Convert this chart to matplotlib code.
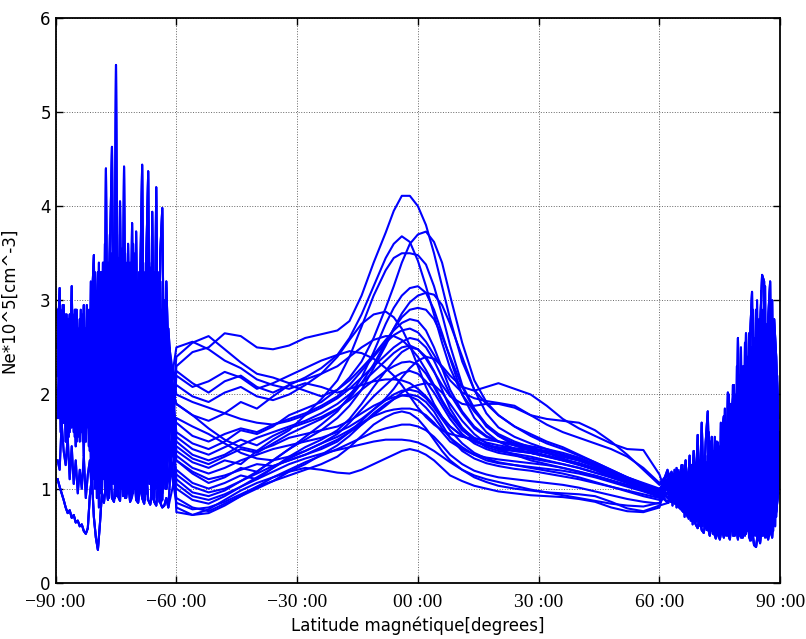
import matplotlib
matplotlib.use("Agg")
import matplotlib.pyplot as plt

# latitude grids (degrees); the "b" grids sit half a sample off the "a" grids
lat_south_a = [-89.5, -89.0, -88.5, -88.0, -87.5, -87.0, -86.5, -86.0, -85.5, -85.0,
               -84.5, -84.0, -83.5, -83.0, -82.5, -82.0, -81.5, -81.0, -80.5, -80.0,
               -79.5, -79.0, -78.5, -78.0, -77.5, -77.0, -76.5, -76.0, -75.5, -75.0,
               -74.5, -74.0, -73.5, -73.0, -72.5, -72.0, -71.5, -71.0, -70.5, -70.0,
               -69.5, -69.0, -68.5, -68.0, -67.5, -67.0, -66.5, -66.0, -65.5, -65.0,
               -64.5, -64.0, -63.5, -63.0, -62.5, -62.0]
lat_south_b = [-89.25, -88.75, -88.25, -87.75, -87.25, -86.75, -86.25, -85.75, -85.25, -84.75,
               -84.25, -83.75, -83.25, -82.75, -82.25, -81.75, -81.25, -80.75, -80.25, -79.75,
               -79.25, -78.75, -78.25, -77.75, -77.25, -76.75, -76.25, -75.75, -75.25, -74.75,
               -74.25, -73.75, -73.25, -72.75, -72.25, -71.75, -71.25, -70.75, -70.25, -69.75,
               -69.25, -68.75, -68.25, -67.75, -67.25, -66.75, -66.25, -65.75, -65.25, -64.75,
               -64.25, -63.75, -63.25, -62.75, -62.25, -61.75]
lat_mid = [-60, -56, -52, -48, -44, -40, -36, -32, -28, -24, -20, -17, -14, -11, -8,
           -6, -4, -2, 0, 2, 4, 6, 8, 11, 14, 17, 20, 24, 28, 32, 36, 40, 44, 48, 52, 56, 60]
lat_north_a = [62.0, 62.5, 63.0, 63.5, 64.0, 64.5, 65.0, 65.5, 66.0, 66.5,
               67.0, 67.5, 68.0, 68.5, 69.0, 69.5, 70.0, 70.5, 71.0, 71.5,
               72.0, 72.5, 73.0, 73.5, 74.0, 74.5, 75.0, 75.5, 76.0, 76.5,
               77.0, 77.5, 78.0, 78.5, 79.0, 79.5, 80.0, 80.5, 81.0, 81.5,
               82.0, 82.5, 83.0, 83.5, 84.0, 84.5, 85.0, 85.5, 86.0, 86.5,
               87.0, 87.5, 88.0, 88.5, 89.0, 89.5]
lat_north_b = [62.25, 62.75, 63.25, 63.75, 64.25, 64.75, 65.25, 65.75, 66.25, 66.75,
               67.25, 67.75, 68.25, 68.75, 69.25, 69.75, 70.25, 70.75, 71.25, 71.75,
               72.25, 72.75, 73.25, 73.75, 74.25, 74.75, 75.25, 75.75, 76.25, 76.75,
               77.25, 77.75, 78.25, 78.75, 79.25, 79.75, 80.25, 80.75, 81.25, 81.75,
               82.25, 82.75, 83.25, 83.75, 84.25, 84.75, 85.25, 85.75, 86.25, 86.75,
               87.25, 87.75, 88.25, 88.75, 89.25, 89.75]

# southern polar segments (Ne * 1e5 cm^-3)
s0 = [1.10, 1.02, 0.95, 0.88,
      0.80, 0.74, 0.77, 0.69, 0.72, 0.64, 0.66, 0.60, 0.62, 0.55, 0.52, 0.58,
      0.92, 1.12, 0.70, 0.48, 0.35,
      0.62, 0.95, 0.85, 1.05, 0.88, 1.30, 0.90, 0.86, 1.15, 0.92, 0.87, 1.40, 0.95, 0.90, 1.10, 0.86,
      0.92, 1.25, 0.88, 0.85, 1.05, 0.90, 0.84, 1.20, 0.88, 0.83, 0.95, 0.86, 0.82, 1.10, 0.85, 0.80,
      0.82, 0.90, 0.80]
s1 = [2.50, 3.13, 1.90, 2.60,
      1.80, 2.70, 2.10, 3.15, 1.75, 2.55, 1.95, 2.80, 1.60, 2.45, 2.05, 2.90,
      1.40, 2.95, 3.48, 1.30, 2.80,
      1.50, 3.30, 1.20, 4.40, 1.60, 3.50, 4.63, 2.00, 5.50, 1.40, 4.05, 1.90, 4.42, 1.50, 3.60, 2.10,
      3.82, 1.30, 3.73, 1.80, 3.20, 4.44, 1.60, 3.40, 4.37, 1.40, 3.94, 2.00, 4.20, 1.70, 3.50, 3.98,
      1.80, 3.20, 2.40]
s2 = [1.75, 2.30, 2.85, 1.70,
      2.60, 1.55, 2.40, 1.90, 2.75, 1.45, 2.20, 1.70, 2.65, 1.35, 2.50, 1.80,
      2.70, 1.10, 2.40, 3.10, 1.00,
      3.20, 0.95, 2.90, 1.10, 3.40, 1.00, 3.10, 1.30, 3.60, 0.95, 3.00, 1.20, 3.30, 0.90, 2.80, 1.15,
      3.45, 1.00, 2.95, 0.92, 3.30, 1.10, 3.05, 0.95, 3.20, 1.20, 2.90, 0.90, 3.10, 1.05, 2.70, 0.88,
      2.60, 1.00, 2.20]
s3 = [2.90, 1.85, 2.40, 2.95,
      1.50, 2.35, 2.85, 1.65, 2.30, 2.90, 1.55, 2.40, 2.20, 2.95, 1.50, 2.35,
      1.60, 2.20, 1.20, 2.60, 3.30,
      1.20, 2.60, 3.40, 1.40, 2.30, 3.70, 1.20, 2.90, 3.30, 1.60, 2.40, 3.55, 1.30, 3.00, 2.20, 3.40,
      1.10, 2.70, 3.20, 1.50, 2.60, 3.30, 1.20, 2.80, 3.50, 1.40, 2.50, 3.30, 1.10, 2.90, 3.20, 1.50,
      3.00, 1.40, 2.70]
s4 = [2.20, 2.70, 1.65, 2.30,
      2.85, 1.95, 1.60, 2.50, 2.05, 1.80, 2.70, 1.50, 2.05, 2.60, 1.75, 2.25,
      2.90, 1.50, 2.10, 1.40, 2.20,
      2.80, 1.80, 1.30, 3.20, 2.00, 1.40, 2.60, 3.30, 1.80, 2.40, 1.20, 2.90, 2.50, 1.60, 3.30, 1.40,
      2.20, 3.10, 1.70, 2.50, 1.10, 2.80, 2.30, 1.60, 2.70, 1.30, 2.40, 1.80, 2.60, 1.20, 2.30, 1.60,
      2.10, 1.30, 1.90]
s5 = [1.85, 2.55, 2.10, 1.80,
      2.20, 2.80, 2.10, 2.30, 1.60, 2.60, 2.45, 2.00, 2.80, 1.90, 2.70, 2.10,
      2.40, 2.70, 1.50, 1.90, 2.50,
      2.10, 3.00, 2.30, 2.70, 1.50, 2.90, 2.20, 1.70, 2.60, 3.20, 2.10, 1.60, 2.90, 2.30, 1.60, 3.10,
      2.40, 1.90, 3.30, 2.10, 1.80, 2.60, 2.90, 2.00, 1.50, 2.70, 2.20, 2.50, 1.40, 2.40, 1.90, 2.20,
      1.60, 2.30, 1.70]
s6 = [2.05, 1.75, 2.75, 2.20,
      1.90, 2.20, 2.65, 1.85, 2.40, 2.20, 1.85, 2.55, 1.80, 2.30, 2.70, 1.65,
      2.10, 1.80, 2.90, 2.20, 1.60,
      2.50, 1.60, 2.20, 1.90, 2.90, 1.30, 2.40, 2.10, 1.50, 2.80, 1.80, 2.60, 2.00, 2.70, 1.30, 2.90,
      1.90, 2.40, 1.30, 2.90, 1.60, 2.00, 1.40, 3.00, 1.90, 2.20, 1.60, 2.50, 2.10, 1.50, 2.00, 1.30,
      1.50, 1.90, 1.40]
s7 = [1.30, 1.20, 1.70, 1.40,
      1.25, 1.55, 1.10, 1.45, 1.05, 1.30, 0.95, 1.20, 1.00, 1.35, 0.90, 1.15,
      1.30, 0.95, 1.50, 1.10, 1.70,
      1.00, 1.80, 1.20, 2.10, 1.00, 1.60, 1.10, 1.90, 0.95, 1.50, 1.20, 2.00, 1.05, 1.70, 0.95, 1.40,
      1.80, 1.00, 1.60, 1.15, 1.90, 1.00, 1.50, 0.95, 1.70, 1.10, 1.45, 0.92, 1.60, 1.05, 1.30, 0.95,
      1.20, 1.00, 1.10]
s8 = [2.80, 1.60, 2.70, 1.90,
      2.85, 1.55, 2.75, 1.70, 2.90, 1.50, 2.70, 1.65, 2.80, 1.60, 2.95, 1.45,
      3.20, 1.10, 3.30, 0.90, 3.40,
      0.95, 3.40, 1.00, 3.30, 0.90, 3.50, 1.05, 3.20, 0.92, 3.45, 1.00, 3.30, 0.90, 3.40, 1.10, 3.25,
      0.95, 3.50, 0.90, 3.30, 1.00, 3.40, 0.88, 3.20, 1.05, 3.35, 0.90, 3.10, 1.00, 3.30, 0.86, 3.00,
      1.00, 2.60, 1.30]
s9 = [1.80, 2.90, 1.70, 2.60,
      1.65, 2.60, 1.80, 2.85, 1.55, 2.65, 1.75, 2.90, 1.50, 2.70, 1.85, 2.80,
      1.30, 3.00, 1.00, 2.90, 0.80,
      3.30, 1.10, 3.60, 0.95, 3.20, 1.20, 3.40, 0.90, 3.70, 1.00, 3.10, 0.92, 3.50, 1.15, 3.30, 0.88,
      3.60, 1.00, 3.20, 0.95, 3.50, 0.90, 3.30, 1.10, 3.40, 0.88, 3.20, 1.00, 3.30, 0.86, 2.90, 1.00,
      2.80, 1.10, 2.50]
s10 = [2.20, 1.80, 2.95, 1.75,
       2.30, 2.80, 1.70, 2.50, 2.20, 2.90, 1.60, 2.40, 2.85, 1.70, 2.30, 2.75,
       1.60, 2.50, 3.10, 1.30, 2.20,
       3.00, 1.40, 2.60, 1.90, 3.10, 1.20, 2.80, 2.20, 1.30, 3.00, 2.50, 1.20, 2.90, 1.80, 3.20, 1.30,
       2.70, 2.10, 1.20, 3.10, 2.40, 1.30, 2.90, 1.70, 3.00, 1.20, 2.60, 2.00, 1.10, 2.80, 2.20, 1.20,
       2.50, 1.60, 2.00]
s11 = [2.40, 2.00, 1.70, 2.80,
       1.95, 1.70, 2.60, 2.05, 1.65, 2.75, 2.20, 1.60, 2.55, 2.00, 1.70, 2.60,
       2.10, 1.20, 2.80, 2.40, 0.90,
       2.40, 2.90, 1.20, 1.90, 3.30, 1.00, 2.20, 2.90, 1.40, 2.00, 3.30, 1.10, 2.50, 2.80, 1.00, 2.30,
       3.10, 1.30, 2.10, 2.80, 1.00, 2.60, 3.20, 1.20, 2.00, 2.90, 1.30, 2.40, 3.00, 1.00, 2.60, 1.40,
       2.20, 2.60, 1.50]

# northern polar segments
n0 = [1.00, 0.95, 0.92, 0.88, 0.85, 0.82, 0.80, 0.78,
      0.75, 0.80, 0.70, 0.76, 0.66, 0.72, 0.62, 0.58, 0.70, 0.56, 0.53, 0.65,
      0.60, 0.50, 0.68, 0.55, 0.47, 0.62, 0.46, 0.58, 0.48, 0.66,
      0.52, 0.46, 0.70, 0.50, 0.62, 0.46, 0.75, 0.48, 0.60, 0.52,
      0.70, 0.45, 0.58, 0.40, 0.38, 0.55, 0.42, 0.65, 0.50, 0.72,
      0.46, 0.60, 0.48, 0.85, 0.75, 0.95]
n1 = [1.05, 1.10, 0.98, 1.15, 1.02, 1.20, 1.05, 1.25,
      1.00, 1.30, 0.95, 1.35, 0.90, 1.40, 1.00, 1.57, 0.85, 1.70, 0.95, 1.50,
      1.82, 0.90, 1.55, 1.00, 1.40, 1.49, 0.85, 1.60, 1.77, 0.90,
      2.02, 1.00, 1.80, 2.10, 0.80, 2.60, 1.20, 2.20, 0.90, 2.65,
      1.10, 2.60, 3.09, 0.80, 2.90, 1.20, 2.70, 3.27, 3.20, 1.00,
      2.80, 3.20, 0.90, 2.80, 2.40, 1.75]
n2 = [0.95, 1.05, 1.00, 0.90, 1.10, 0.88, 1.05, 0.85,
      1.20, 0.80, 1.10, 0.75, 1.25, 0.82, 1.15, 0.70, 1.30, 0.78, 1.20, 0.68,
      1.35, 0.70, 1.25, 0.60, 1.45, 0.75, 1.30, 0.62, 1.50, 0.70,
      1.60, 0.58, 1.80, 0.70, 1.90, 0.55, 2.20, 0.65, 2.30, 0.60,
      2.40, 0.70, 2.50, 0.55, 2.70, 0.65, 2.80, 0.50, 2.90, 0.70,
      2.60, 0.55, 3.00, 0.80, 1.90, 1.10]
n3 = [1.10, 1.00, 1.08, 0.95, 0.98, 1.05, 0.90, 1.00,
      0.85, 1.05, 0.78, 1.00, 0.72, 1.10, 0.80, 1.00, 0.65, 1.15, 0.75, 1.25,
      0.65, 1.20, 0.80, 1.40, 0.60, 1.30, 0.75, 1.50, 0.55, 1.60,
      0.70, 1.70, 0.55, 1.90, 0.80, 2.00, 0.50, 2.10, 0.75, 2.20,
      0.60, 2.30, 0.85, 2.50, 0.55, 2.60, 0.75, 2.70, 0.60, 2.50,
      0.80, 2.70, 0.60, 2.20, 1.20, 1.40]
n4 = [0.90, 0.93, 0.98, 1.02, 0.94, 0.90, 0.98, 0.92,
      0.95, 0.88, 1.05, 0.90, 0.85, 1.00, 0.95, 0.80, 1.05, 1.10, 0.85, 1.00,
      1.10, 0.95, 0.80, 1.15, 1.05, 0.85, 1.20, 1.00, 0.90, 1.30,
      1.10, 1.40, 0.90, 1.20, 1.60, 1.00, 1.40, 1.80, 1.10, 1.50,
      2.00, 1.20, 1.70, 2.20, 1.00, 1.80, 2.40, 1.20, 1.90, 2.30,
      1.30, 2.00, 2.50, 1.10, 1.60, 0.95]
n5 = [1.15, 1.08, 1.12, 1.00, 1.05, 0.95, 1.00, 0.92,
      0.98, 0.85, 0.92, 0.80, 0.88, 0.75, 0.90, 0.70, 0.85, 0.72, 0.88, 0.66,
      0.80, 0.62, 0.85, 0.90, 0.58, 0.80, 0.95, 0.55, 0.85, 1.00,
      0.60, 0.90, 1.20, 0.55, 1.00, 1.40, 0.60, 1.30, 1.60, 0.55,
      1.40, 1.90, 0.60, 1.70, 2.10, 0.50, 1.80, 2.30, 0.60, 2.00,
      2.40, 0.55, 2.00, 2.60, 0.70, 1.30]
n6 = [0.85, 0.90, 0.86, 0.94, 0.88, 0.96, 0.84, 0.92,
      0.88, 1.00, 0.82, 0.95, 1.05, 0.78, 0.95, 1.10, 0.80, 1.00, 1.15, 0.75,
      1.05, 1.20, 0.70, 1.10, 1.30, 0.68, 1.20, 1.35, 0.70, 1.25,
      1.50, 0.75, 1.40, 1.65, 0.70, 1.50, 1.75, 0.68, 1.60, 1.90,
      0.70, 1.80, 2.10, 0.65, 2.00, 2.30, 0.70, 2.20, 2.50, 0.75,
      2.30, 2.60, 0.70, 2.10, 1.50, 1.05]
n7 = [1.20, 1.12, 1.18, 1.08, 1.15, 1.05, 1.10, 1.00,
      1.05, 0.95, 1.00, 0.90, 0.98, 0.85, 0.95, 0.82, 0.92, 0.80, 0.90, 0.78,
      0.88, 0.75, 0.85, 0.72, 0.95, 0.70, 0.90, 0.75, 1.05, 0.72,
      1.10, 0.80, 1.25, 0.70, 1.30, 0.85, 1.45, 0.75, 1.55, 0.90,
      1.65, 0.80, 1.75, 0.95, 1.85, 0.85, 2.00, 1.00, 2.10, 0.90,
      2.20, 1.05, 2.30, 1.20, 1.40, 1.20]
n8 = [0.85, 1.15, 0.82, 1.20, 0.80, 1.18, 0.78, 1.25,
      0.70, 1.15, 0.68, 1.20, 0.62, 1.25, 0.65, 1.22, 0.60, 1.30, 0.58, 1.28,
      0.55, 1.50, 0.52, 1.55, 0.50, 1.45, 0.55, 1.60, 0.50, 1.70,
      0.52, 1.90, 0.50, 2.00, 0.55, 2.20, 0.48, 2.30, 0.50, 2.40,
      0.48, 2.50, 0.52, 2.60, 0.45, 2.80, 0.50, 2.90, 0.48, 2.75,
      0.50, 2.90, 0.55, 2.50, 0.95, 1.60]
n9 = [1.10, 0.86, 1.16, 0.84, 1.22, 0.80, 1.20, 0.76,
      1.12, 0.72, 1.18, 0.66, 1.22, 0.64, 1.28, 0.60, 1.30, 0.60, 1.35, 0.56,
      1.60, 0.55, 1.40, 0.50, 1.50, 0.48, 1.70, 0.52, 1.85, 0.50,
      2.00, 0.55, 2.10, 0.50, 2.30, 0.52, 2.50, 0.48, 2.55, 0.55,
      2.65, 0.45, 2.90, 0.50, 3.00, 0.45, 3.10, 0.55, 3.15, 0.48,
      3.00, 0.52, 2.70, 0.60, 2.20, 1.00]
n10 = [0.95, 1.05, 0.90, 1.10, 0.92, 1.00, 0.88, 1.08,
       0.90, 1.15, 0.80, 1.05, 1.20, 0.75, 1.10, 0.85, 1.25, 0.78, 1.15, 0.90,
       1.30, 0.80, 1.20, 1.00, 0.70, 1.30, 0.90, 1.10, 1.50, 0.75,
       1.40, 1.00, 1.70, 0.80, 1.60, 1.20, 1.90, 0.90, 1.70, 1.30,
       2.10, 1.00, 1.80, 1.40, 2.30, 0.90, 2.00, 1.50, 2.40, 1.10,
       2.10, 1.40, 2.50, 1.00, 1.80, 1.30]
n11 = [1.02, 0.94, 1.08, 0.90, 1.00, 0.86, 1.06, 0.84,
       1.00, 0.78, 0.95, 1.10, 0.70, 1.00, 1.20, 0.68, 0.95, 1.25, 0.65, 1.10,
       0.90, 1.35, 0.62, 1.00, 1.40, 0.60, 1.20, 0.95, 1.55, 0.65,
       1.20, 1.80, 0.60, 1.40, 2.00, 0.70, 1.60, 2.10, 0.65, 1.80,
       2.20, 0.70, 1.90, 2.40, 0.60, 2.00, 2.60, 0.65, 2.20, 2.70,
       0.70, 2.30, 2.00, 0.80, 1.50, 1.20]

# low/mid latitude part of each pass
c01 = [2.30, 2.45, 2.50, 2.65, 2.62, 2.50, 2.48, 2.52, 2.60, 2.64, 2.68, 2.78, 3.05, 3.40, 3.72,
       3.95, 4.11, 4.11, 4.00, 3.80, 3.50, 3.15, 2.80, 2.35, 2.05, 1.90, 1.78, 1.66, 1.58, 1.50,
       1.44, 1.36, 1.28, 1.20, 1.12, 1.05, 0.98]
c02 = [1.60, 1.48, 1.42, 1.50, 1.62, 1.58, 1.66, 1.78, 1.85, 1.92, 2.05, 2.18, 2.35, 2.60, 2.92,
       3.15, 3.40, 3.60, 3.70, 3.73, 3.62, 3.40, 3.05, 2.55, 2.15, 1.92, 1.78, 1.66, 1.56, 1.48,
       1.42, 1.35, 1.28, 1.20, 1.12, 1.05, 0.98]
c03 = [1.90, 1.78, 1.72, 1.80, 1.92, 1.85, 1.98, 2.10, 2.18, 2.28, 2.42, 2.60, 2.85, 3.15, 3.45,
       3.60, 3.68, 3.62, 3.42, 3.15, 2.85, 2.55, 2.28, 2.00, 1.82, 1.68, 1.58, 1.50, 1.44, 1.38,
       1.32, 1.26, 1.20, 1.12, 1.06, 1.00, 0.93]
c04 = [1.40, 1.28, 1.22, 1.30, 1.26, 1.40, 1.52, 1.62, 1.78, 1.95, 2.15, 2.40, 2.72, 3.05, 3.32,
       3.45, 3.50, 3.50, 3.48, 3.38, 3.15, 2.85, 2.52, 2.10, 1.85, 1.68, 1.56, 1.46, 1.40, 1.35,
       1.30, 1.26, 1.20, 1.14, 1.08, 1.02, 0.95]
c05 = [1.10, 0.96, 0.92, 0.98, 1.08, 1.18, 1.30, 1.42, 1.52, 1.62, 1.75, 1.88, 2.05, 2.28, 2.52,
       2.70, 2.86, 2.98, 3.05, 3.08, 3.06, 2.95, 2.75, 2.40, 2.05, 1.80, 1.65, 1.55, 1.48, 1.42,
       1.36, 1.30, 1.24, 1.16, 1.10, 1.04, 0.97]
c06 = [2.10, 1.98, 1.92, 2.02, 2.08, 1.98, 1.94, 2.00, 2.10, 2.22, 2.40, 2.58, 2.75, 2.85, 2.88,
       2.82, 2.70, 2.52, 2.30, 2.08, 1.90, 1.76, 1.66, 1.56, 1.50, 1.46, 1.44, 1.42, 1.38, 1.34,
       1.30, 1.25, 1.20, 1.14, 1.08, 1.02, 0.96]
c07 = [1.30, 1.16, 1.06, 1.12, 1.22, 1.18, 1.30, 1.42, 1.55, 1.68, 1.82, 1.98, 2.18, 2.45, 2.75,
       2.92, 3.05, 3.13, 3.15, 3.08, 2.90, 2.65, 2.38, 2.00, 1.75, 1.60, 1.50, 1.42, 1.38, 1.34,
       1.30, 1.26, 1.20, 1.14, 1.08, 1.02, 0.95]
c08 = [2.25, 2.12, 2.02, 2.14, 2.20, 2.08, 2.02, 2.10, 2.04, 1.98, 2.05, 2.15, 2.28, 2.42, 2.58,
       2.68, 2.76, 2.80, 2.78, 2.68, 2.50, 2.28, 2.05, 1.82, 1.66, 1.56, 1.50, 1.46, 1.42, 1.38,
       1.34, 1.30, 1.24, 1.16, 1.08, 1.02, 0.97]
c09 = [1.00, 0.88, 0.84, 0.92, 1.02, 1.12, 1.22, 1.34, 1.44, 1.52, 1.62, 1.74, 1.90, 2.08, 2.25,
       2.36, 2.45, 2.50, 2.48, 2.40, 2.25, 2.05, 1.85, 1.65, 1.52, 1.44, 1.40, 1.37, 1.34, 1.30,
       1.26, 1.22, 1.17, 1.12, 1.06, 0.99, 0.92]
c10 = [1.55, 1.42, 1.36, 1.44, 1.52, 1.46, 1.56, 1.64, 1.70, 1.76, 1.85, 1.94, 2.05, 2.15, 2.25,
       2.30, 2.34, 2.35, 2.32, 2.22, 2.08, 1.92, 1.78, 1.62, 1.52, 1.46, 1.42, 1.40, 1.38, 1.35,
       1.31, 1.27, 1.22, 1.15, 1.09, 1.03, 0.97]
c11 = [2.50, 2.56, 2.48, 2.36, 2.28, 2.16, 2.10, 2.06, 2.12, 2.08, 2.02, 2.06, 2.10, 2.14, 2.16,
       2.16, 2.15, 2.12, 2.06, 1.98, 1.88, 1.76, 1.66, 1.56, 1.50, 1.46, 1.43, 1.40, 1.38, 1.35,
       1.31, 1.27, 1.21, 1.14, 1.07, 1.01, 0.96]
c12 = [0.90, 0.80, 0.76, 0.84, 0.92, 1.00, 1.08, 1.18, 1.26, 1.36, 1.46, 1.56, 1.68, 1.80, 1.90,
       1.95, 1.99, 2.00, 1.98, 1.92, 1.82, 1.68, 1.54, 1.40, 1.32, 1.27, 1.24, 1.21, 1.19, 1.16,
       1.13, 1.10, 1.06, 1.02, 0.98, 0.94, 0.90]
c13 = [1.20, 1.06, 1.00, 1.06, 1.14, 1.10, 1.22, 1.32, 1.40, 1.48, 1.55, 1.62, 1.70, 1.77, 1.82,
       1.84, 1.85, 1.85, 1.83, 1.78, 1.70, 1.60, 1.50, 1.42, 1.36, 1.33, 1.31, 1.29, 1.27, 1.25,
       1.22, 1.18, 1.13, 1.08, 1.03, 0.98, 0.92]
c14 = [0.80, 0.72, 0.74, 0.82, 0.92, 1.02, 1.12, 1.20, 1.28, 1.35, 1.42, 1.48, 1.54, 1.60, 1.64,
       1.66, 1.68, 1.68, 1.66, 1.62, 1.55, 1.46, 1.36, 1.26, 1.19, 1.15, 1.12, 1.10, 1.08, 1.06,
       1.04, 1.01, 0.97, 0.93, 0.89, 0.86, 0.84]
c15 = [1.05, 0.92, 0.88, 0.94, 1.02, 1.10, 1.18, 1.26, 1.32, 1.37, 1.41, 1.44, 1.47, 1.50, 1.52,
       1.52, 1.52, 1.51, 1.49, 1.45, 1.40, 1.34, 1.28, 1.20, 1.14, 1.10, 1.07, 1.03, 0.99, 0.96,
       0.93, 0.90, 0.87, 0.84, 0.82, 0.81, 0.85]
c16 = [0.75, 0.72, 0.78, 0.88, 0.98, 1.06, 1.12, 1.18, 1.22, 1.20, 1.17, 1.16, 1.20, 1.26, 1.32,
       1.36, 1.40, 1.42, 1.40, 1.36, 1.30, 1.22, 1.14, 1.08, 1.03, 1.00, 0.97, 0.95, 0.93, 0.92,
       0.91, 0.89, 0.86, 0.80, 0.76, 0.75, 0.80]
c17 = [1.35, 1.22, 1.16, 1.22, 1.30, 1.36, 1.42, 1.46, 1.50, 1.54, 1.60, 1.66, 1.74, 1.84, 1.96,
       2.06, 2.18, 2.28, 2.36, 2.40, 2.38, 2.30, 2.20, 2.08, 2.04, 2.08, 2.12, 2.06, 2.00, 1.88,
       1.74, 1.64, 1.56, 1.48, 1.42, 1.41, 1.15]
c18 = [1.70, 1.56, 1.50, 1.58, 1.64, 1.60, 1.68, 1.74, 1.80, 1.88, 1.98, 2.10, 2.25, 2.40, 2.55,
       2.63, 2.68, 2.70, 2.66, 2.56, 2.42, 2.28, 2.15, 2.02, 1.96, 1.93, 1.91, 1.88, 1.78, 1.68,
       1.60, 1.54, 1.48, 1.42, 1.34, 1.22, 1.06]
c19 = [2.40, 2.55, 2.62, 2.48, 2.34, 2.22, 2.18, 2.12, 2.16, 2.22, 2.30, 2.40, 2.50, 2.58, 2.62,
       2.62, 2.58, 2.50, 2.40, 2.26, 2.10, 1.94, 1.80, 1.64, 1.54, 1.49, 1.46, 1.43, 1.41, 1.38,
       1.34, 1.30, 1.24, 1.17, 1.10, 1.04, 0.98]
c20 = [1.75, 1.66, 1.58, 1.48, 1.38, 1.32, 1.30, 1.34, 1.40, 1.48, 1.58, 1.70, 1.84, 1.98, 2.10,
       2.18, 2.23, 2.25, 2.22, 2.14, 2.02, 1.88, 1.74, 1.58, 1.48, 1.42, 1.38, 1.35, 1.32, 1.29,
       1.26, 1.22, 1.17, 1.12, 1.07, 1.01, 0.95]
c21 = [0.85, 0.78, 0.80, 0.86, 0.94, 1.02, 1.08, 1.14, 1.20, 1.26, 1.34, 1.44, 1.56, 1.68, 1.76,
       1.80, 1.82, 1.80, 1.74, 1.64, 1.52, 1.40, 1.30, 1.20, 1.12, 1.07, 1.03, 1.00, 0.98, 0.96,
       0.95, 0.94, 0.92, 0.86, 0.79, 0.76, 0.82]
c22 = [2.00, 1.92, 1.86, 1.80, 1.74, 1.70, 1.68, 1.72, 1.78, 1.86, 1.96, 2.06, 2.18, 2.30, 2.42,
       2.50, 2.56, 2.60, 2.58, 2.50, 2.36, 2.18, 2.00, 1.80, 1.64, 1.55, 1.50, 1.46, 1.43, 1.40,
       1.36, 1.32, 1.26, 1.19, 1.12, 1.06, 1.00]
c23 = [1.15, 1.02, 0.96, 1.00, 1.08, 1.16, 1.24, 1.30, 1.36, 1.42, 1.50, 1.60, 1.72, 1.84, 1.94,
       2.00, 2.04, 2.05, 2.03, 1.96, 1.86, 1.74, 1.62, 1.48, 1.38, 1.32, 1.28, 1.25, 1.22, 1.19,
       1.16, 1.12, 1.07, 1.02, 0.97, 0.92, 0.88]
c24 = [1.45, 1.32, 1.26, 1.34, 1.42, 1.38, 1.48, 1.58, 1.66, 1.74, 1.84, 1.96, 2.12, 2.32, 2.55,
       2.70, 2.82, 2.90, 2.92, 2.90, 2.80, 2.62, 2.40, 2.08, 1.84, 1.66, 1.56, 1.48, 1.43, 1.38,
       1.34, 1.30, 1.24, 1.17, 1.11, 1.05, 0.98]
c25 = [2.20, 2.08, 2.14, 2.24, 2.18, 2.06, 2.12, 2.20, 2.28, 2.36, 2.42, 2.46, 2.44, 2.38, 2.28,
       2.20, 2.10, 1.98, 1.86, 1.76, 1.68, 1.62, 1.58, 1.55, 1.53, 1.52, 1.50, 1.48, 1.45, 1.42,
       1.38, 1.33, 1.26, 1.18, 1.10, 1.03, 0.97]
c26 = [1.30, 1.18, 1.10, 1.14, 1.20, 1.26, 1.24, 1.30, 1.36, 1.44, 1.52, 1.60, 1.68, 1.78, 1.88,
       1.95, 2.02, 2.07, 2.10, 2.12, 2.10, 2.02, 1.90, 1.72, 1.58, 1.48, 1.42, 1.36, 1.30, 1.26,
       1.22, 1.18, 1.14, 1.09, 1.04, 0.99, 0.93]
c27 = [1.90, 1.78, 1.64, 1.52, 1.44, 1.40, 1.46, 1.54, 1.58, 1.62, 1.66, 1.72, 1.80, 1.88, 1.94,
       1.97, 1.99, 1.98, 1.94, 1.86, 1.76, 1.64, 1.54, 1.44, 1.36, 1.30, 1.27, 1.25, 1.23, 1.21,
       1.19, 1.16, 1.12, 1.07, 1.02, 0.97, 0.91]
c28 = [1.50, 1.36, 1.30, 1.36, 1.46, 1.54, 1.60, 1.66, 1.72, 1.80, 1.90, 2.00, 2.12, 2.24, 2.36,
       2.44, 2.50, 2.52, 2.48, 2.38, 2.24, 2.10, 1.98, 1.90, 1.88, 1.90, 1.90, 1.86, 1.78, 1.74,
       1.72, 1.70, 1.62, 1.50, 1.36, 1.20, 1.04]

south = [(lat_south_a, s) for s in (s0, s1, s2, s3, s4, s5, s6, s7)] + \
        [(lat_south_b, s) for s in (s8, s9, s10, s11)]
north = [(lat_north_a, n) for n in (n0, n1, n2, n3, n4, n5, n6, n7)] + \
        [(lat_north_b, n) for n in (n8, n9, n10, n11)]
passes = [c01, c02, c03, c04, c05, c06, c07, c08, c09, c10, c11, c12, c13, c14,
          c15, c16, c17, c18, c19, c20, c21, c22, c23, c24, c25, c26, c27, c28]

xtick_pos = [-90, -60, -30, 0, 30, 60, 90]
xtick_txt = ['\u221290 :00', '\u221260 :00', '\u221230 :00', '00 :00',
             '30 :00', '60 :00', '90 :00']

fig = plt.figure(figsize=(8.06, 6.39), dpi=100)
ax = fig.add_axes([0.069, 0.088, 0.899, 0.884])

for i, mid in enumerate(passes):
    slat, sval = south[i % len(south)]
    nlat, nval = north[i % len(north)]
    ax.plot(slat + lat_mid + nlat, sval + mid + nval, color='b', lw=1.5)

ax.set_xlim(-90, 90)
ax.set_ylim(0, 6)
ax.set_xticks(xtick_pos)
ax.set_xticklabels(xtick_txt, fontsize=14, family='Liberation Serif')
ax.set_yticks([0, 1, 2, 3, 4, 5, 6])
ax.tick_params(axis='y', labelsize=12)
ax.tick_params(axis='x', pad=8)
ax.tick_params(direction='in', top=True, right=True, length=5, width=1)
ax.grid(True, color='k', linestyle=':', lw=0.7, alpha=0.6)
for sp in ax.spines.values():
    sp.set_linewidth(1.3)

ax.set_xlabel('Latitude magnétique[degrees]', fontsize=12)
ax.set_ylabel('Ne*10^5[cm^-3]', fontsize=12)
ax.yaxis.set_label_coords(-0.052, 0.5)

fig.savefig('out.png', dpi=100)
